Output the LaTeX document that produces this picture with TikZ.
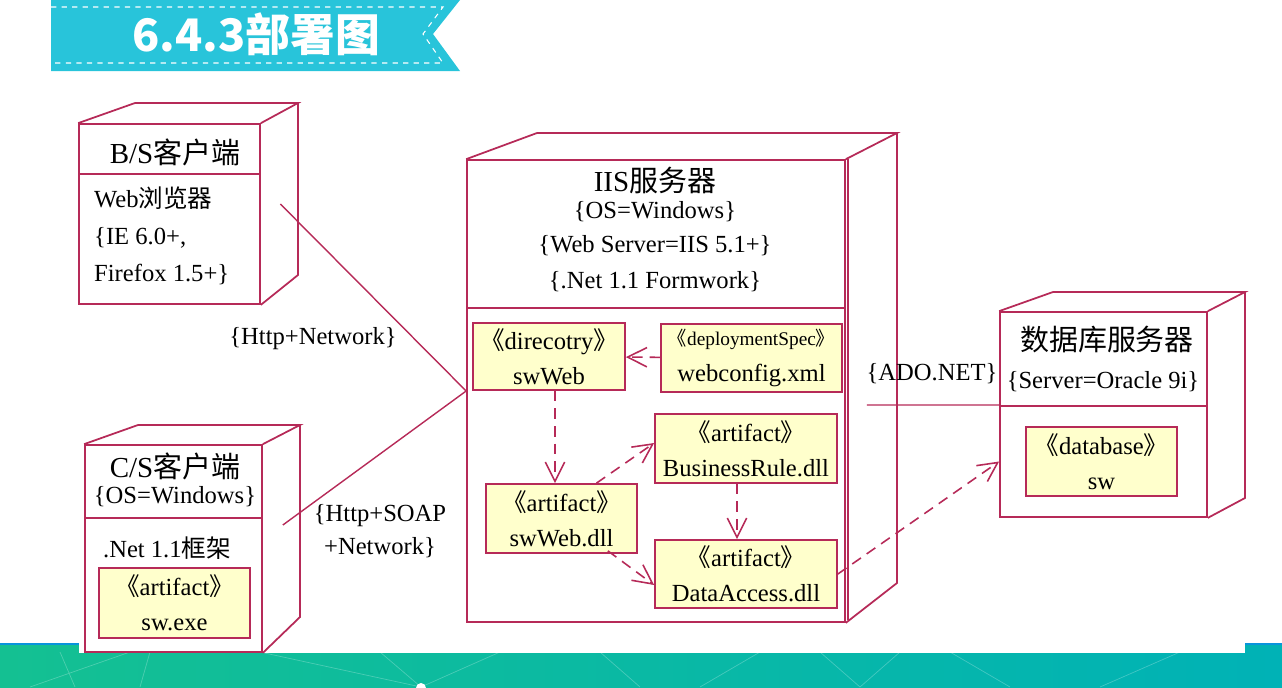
\documentclass[tikz,border=0pt]{standalone}
\usepackage{fontspec}
\setmainfont{Liberation Serif}
\newfontfamily\cjk{Noto Sans CJK SC}
\usetikzlibrary{arrows.meta}
\definecolor{crim}{RGB}{182,42,88}
\definecolor{artfill}{RGB}{255,255,204}
\definecolor{bannerc}{RGB}{40,196,218}
\definecolor{bandl}{RGB}{20,192,146}
\definecolor{bandr}{RGB}{0,178,182}
\newcommand{\guil}{{\cjk 《}}
\newcommand{\guir}{{\cjk 》}}
\begin{document}
\begin{tikzpicture}[x=0.02cm, y=-0.02cm, font=\fontsize{14}{20}\selectfont,
  frame/.style={draw=crim, line width=1pt},
  art/.style={draw=crim, fill=artfill, line width=1pt, align=center, inner sep=0pt},
  head/.style={font=\fontsize{16.5}{20}\selectfont},
  dep/.style={draw=crim, line width=0.9pt, dash pattern=on 6pt off 4pt, -{Straight Barb[length=11pt,width=11pt]}},
  comm/.style={draw=crim, line width=0.8pt}]
  \useasboundingbox (0,0) rectangle (1282,687);
  % 底部色带
  \shade[left color=bandl, right color=bandr] (0,644) rectangle (1282,687);
  \draw[cyan!80!blue, line width=0.6pt] (0,644) -- (1282,644);
  \draw[white, opacity=0.25, line width=0.4pt] (30,687) -- (130,652) (60,652) -- (75,687) (150,652) -- (140,687)
    (260,652) -- (421,687) -- (500,652) (421,687) -- (380,652) (600,652) -- (640,687) (700,687) -- (760,652)
    (820,652) -- (860,687) -- (900,652) (950,652) -- (1010,687) (1100,687) -- (1180,652);
  \fill[white] (79,600) rectangle (1245,653);
  \fill[white] (421,688) circle (5);
  % 标题
  \fill[bannerc] (51,0) -- (460,0) -- (433,34) -- (460,71) -- (51,71) -- cycle;
  \draw[white, dashed, line width=0.6pt] (51,7) -- (443,7) -- (423,34) -- (443,63) -- (51,63);
  \node[white, font=\cjk\bfseries\fontsize{25.5}{30}\selectfont] (title) at (256,34) {6.4.3部署图};
  % B/S客户端
  \node[frame, minimum width=3.62cm, minimum height=3.6cm] (bs) at (169.5,214) {};
  \draw[frame] (bs.north west) -- (135,103) -- (298,103) -- (bs.north east);
  \draw[frame] (298,103) -- (298,275) -- (bs.south east);
  \draw[frame] (bs.west |- 0,174) -- (bs.east |- 0,174);
  \node[head] (bshead) at (175,152) {B/S{\cjk 客户端}};
  \node[align=left, anchor=west, font=\fontsize{14}{21}\selectfont] (bsbody) at (88,236)
    {Web{\cjk 浏览器}\\\{IE 6.0+,\\Firefox 1.5+\}};
  % C/S客户端
  \node[frame, fill=white, minimum width=3.54cm, minimum height=4.14cm] (cs) at (173.5,548.5) {};
  \draw[frame] (cs.north west) -- (138,425) -- (300,425) -- (cs.north east);
  \draw[frame] (300,425) -- (300,617) -- (cs.south east);
  \draw[frame] (cs.west |- 0,518) -- (cs.east |- 0,518);
  \node[head] (cshead) at (175,466) {C/S{\cjk 客户端}};
  \node (csos) at (175,497) {\{OS=Windows\}};
  \node (csnet) at (167,548) {.Net 1.1{\cjk 框架}};
  \node[art, minimum width=3.02cm, minimum height=1.4cm] (csexe) at (174.5,603)
    {\guil artifact\guir\\sw.exe};
  % IIS服务器
  \node[frame, minimum width=7.56cm, minimum height=9.24cm] (iis) at (656,391) {};
  \draw[frame] (iis.north west) -- (537,133) -- (897,133) -- (iis.north east);
  \draw[frame] (897,133) -- (897,583) -- (iis.south east);
  \draw[crim, line width=0.6pt] (848,159) -- (848,620);
  \draw[frame] (iis.west |- 0,308) -- (iis.east |- 0,308);
  \node[head] (iishead) at (655,180) {IIS{\cjk 服务器}};
  \node (iisos) at (655,212) {\{OS=Windows\}};
  \node (iisweb) at (655,246) {\{Web Server=IIS 5.1+\}};
  \node (iisnet) at (655,282) {\{.Net 1.1 Formwork\}};
  \node[art, minimum width=3.04cm, minimum height=1.34cm] (swweb) at (549,356.5)
    {\guil direcotry\guir\\swWeb};
  \node[art, minimum width=3.62cm, minimum height=1.36cm] (webcfg) at (751.5,358)
    {{\fontsize{11}{20}\selectfont\guil deploymentSpec\guir}\\webconfig.xml};
  \node[art, minimum width=3.64cm, minimum height=1.38cm] (biz) at (746,448.5)
    {\guil artifact\guir\\BusinessRule.dll};
  \node[art, minimum width=3.02cm, minimum height=1.38cm] (swdll) at (561.5,518.5)
    {\guil artifact\guir\\swWeb.dll};
  \node[art, minimum width=3.64cm, minimum height=1.36cm] (data) at (746,574)
    {\guil artifact\guir\\DataAccess.dll};
  % 数据库服务器
  \node[frame, minimum width=4.14cm, minimum height=4.1cm] (dbsrv) at (1103.5,414.5) {};
  \draw[frame] (dbsrv.north west) -- (1053,292) -- (1245,292) -- (dbsrv.north east);
  \draw[frame] (1245,292) -- (1245,498) -- (dbsrv.south east);
  \draw[frame] (dbsrv.west |- 0,406) -- (dbsrv.east |- 0,406);
  \node[head] (dbhead) at (1107,340) {\cjk 数据库服务器};
  \node (dbora) at (1103,382) {\{Server=Oracle 9i\}};
  \node[art, minimum width=3.02cm, minimum height=1.38cm] (dbx) at (1101.5,461.5)
    {\guil database\guir\\sw};
  % 依赖
  \draw[dep] (webcfg) -- (swweb);
  \draw[dep] ([xshift=0.12cm]swweb.south) -- ([xshift=0.12cm]swweb.south |- swdll.north);
  \draw[dep] ([xshift=0.7cm]swdll.north) -- ([yshift=0.11cm]biz.west);
  \draw[dep] ([xshift=-0.6cm,yshift=0.06cm]swdll.south east) -- ([yshift=-0.22cm]data.west);
  \draw[dep] ([xshift=-0.18cm]biz.south) -- ([xshift=-0.18cm]data.north);
  \draw[dep] (data.east) -- (dbsrv.west |- dbx.west);
  % 通信
  \draw[comm] ([xshift=0.39cm,yshift=0.2cm]bs.east) -- (iis.west);
  \draw[comm] ([xshift=0.4cm,yshift=0.47cm]cs.east) -- (iis.west);
  \draw[comm] ([xshift=0.42cm,yshift=-0.28cm]iis.east) -- ([yshift=0.19cm]dbsrv.west);
  \node (lbhttp) at (313,339) {\{Http+Network\}};
  \node[align=center, font=\fontsize{14}{19}\selectfont] (lbsoap) at (380,531) {\{Http+SOAP\\+Network\}};
  \node (lbado) at (932,374) {\{ADO.NET\}};
\end{tikzpicture}
\end{document}
